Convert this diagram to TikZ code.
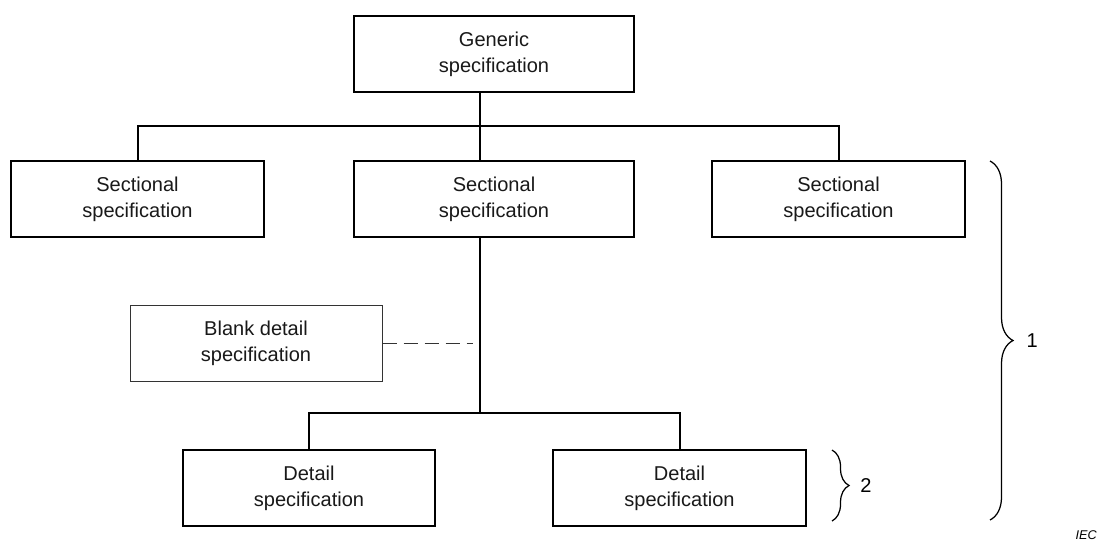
\documentclass[tikz,border=0pt]{standalone}
\usepackage{fontspec}
\setmainfont{Liberation Sans}
\usepackage{tikz}
\usetikzlibrary{decorations.pathreplacing}
\tikzstyle{Spec}=[minimum width=5.06cm, minimum height=1.52cm, fill=white, line width = 0.4mm, draw=black, shape=rectangle, text=black!90, align=center, font=\fontsize{11.4}{14.8}\selectfont]
\tikzstyle{Blank}=[minimum width=5.04cm, minimum height=1.52cm, fill=white, line width = 0.2mm, draw=black!80, shape=rectangle, text=black!90, align=center, font=\fontsize{11.4}{14.8}\selectfont]
\tikzstyle{link}=[line width = 0.4mm, draw=black]
\tikzstyle{group}=[line width = 0.25mm, draw=black, decorate]
\pgfdeclarelayer{nodelayer}
\pgfdeclarelayer{edgelayer}
\pgfsetlayers{nodelayer, edgelayer}
\begin{document}
\begin{tikzpicture}
	\useasboundingbox (0, 0) rectangle (21.98, 10.84);
	\begin{pgfonlayer}{nodelayer}
		% top level
		\node [style=Spec, minimum width=5.6cm] (generic) at (9.88, 9.76) {Generic\\specification};
		% sectional level
		\node [style=Spec] (sectional_left) at (2.75, 6.86) {Sectional\\specification};
		\node [style=Spec, minimum width=5.6cm] (sectional_mid) at (9.88, 6.86) {Sectional\\specification};
		\node [style=Spec] (sectional_right) at (16.77, 6.86) {Sectional\\specification};
		% blank detail
		\node [style=Blank] (blank) at (5.12, 3.98) {Blank detail\\specification};
		% detail level
		\node [style=Spec, minimum width=5.04cm] (detail_left) at (6.18, 1.08) {Detail\\specification};
		\node [style=Spec] (detail_right) at (13.59, 1.08) {Detail\\specification};
		% junctions
		\coordinate (upper_bus) at (9.6, 8.32);
		\coordinate (lower_bus) at (9.6, 2.58);
		\coordinate (dash_end) at (9.46, 3.98);
	\end{pgfonlayer}
	\begin{pgfonlayer}{edgelayer}
		% generic to sectional
		\draw [style=link] (generic.south -| upper_bus) to (upper_bus);
		\draw [style=link] (upper_bus) -| (sectional_left);
		\draw [style=link] (upper_bus) -| (sectional_right);
		\draw [style=link] (upper_bus) to (sectional_mid.north -| upper_bus);
		% sectional to detail
		\draw [style=link] (sectional_mid.south -| lower_bus) to (lower_bus);
		\draw [style=link] (lower_bus) -| (detail_left);
		\draw [style=link] (lower_bus) -| (detail_right);
		\draw [line width = 0.2mm, draw=black!80, dash pattern=on 0.28cm off 0.14cm] (blank.east) to (dash_end);

		% braces
		\draw [style=group, decoration={brace, amplitude=0.34cm}] (16.64, 1.84) to node[right=0.44cm] {\fontsize{11.4}{14}\selectfont 2} (16.64, 0.42);
		\draw [style=group, decoration={brace, amplitude=0.46cm}] (19.8, 7.62) to node[right=0.6cm] {\fontsize{11.4}{14}\selectfont 1} (19.8, 0.44);
		\node [anchor=south east, inner sep=0pt] (iec) at (21.94, 0.04) {\fontsize{7.2}{8}\selectfont\itshape IEC};
	\end{pgfonlayer}
\end{tikzpicture}
\end{document}
